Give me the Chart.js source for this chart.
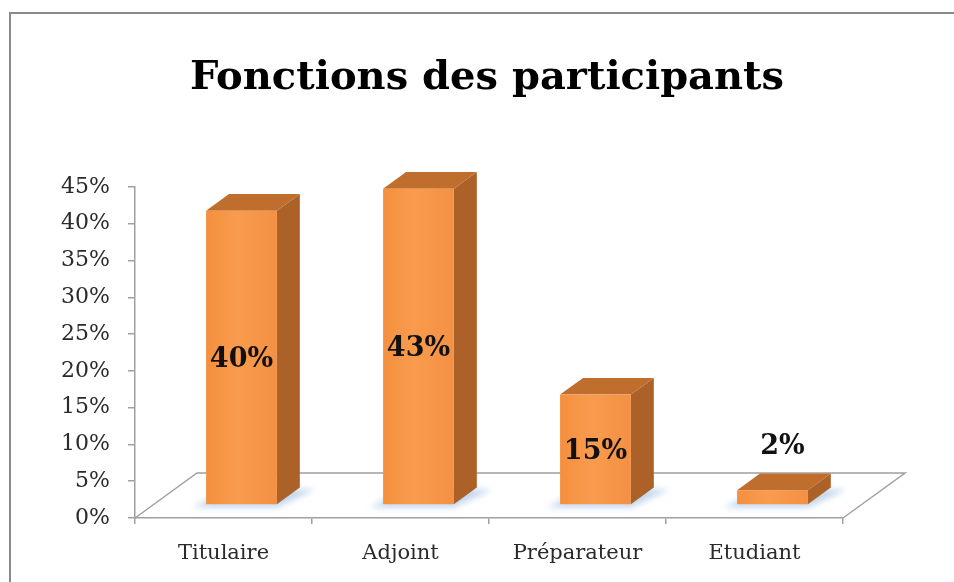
<!DOCTYPE html>
<html>
<head>
<meta charset="utf-8">
<title>Fonctions des participants</title>
<script src="https://cdn.jsdelivr.net/npm/chart.js@4.4.1/dist/chart.umd.min.js"></script>
<style>
  html, body { margin: 0; padding: 0; background: #fff; }
  #chartContainer { width: 954px; height: 582px; }
</style>
</head>
<body>
<div id="chartContainer"><canvas id="fonctionsChart" width="954" height="582"></canvas></div>
<script>
// Data
const categories = ['Titulaire', 'Adjoint', 'Préparateur', 'Etudiant'];
const shares = [0.40, 0.43, 0.15, 0.02];
const yTicks = [0, 0.05, 0.10, 0.15, 0.20, 0.25, 0.30, 0.35, 0.40, 0.45];
const chartTitle = 'Fonctions des participants';

const SERIF = '"DejaVu Serif", "Liberation Serif", serif';
const AXIS_GREY = '#a0a0a0';

// depth of the 3D floor, and where the bars sit inside it
const FLOOR_DX = 62, FLOOR_DY = -45;
const FRONT_K = 0.29, DEPTH_K = 0.37;

const pct = v => Math.round(v * 100) + '%';

const bar3d = {
    id: 'bar3d',
    beforeDraw(chart) {
        const ctx = chart.ctx;
        // frame of the original picture (left and top edges only are visible)
        ctx.save();
        ctx.strokeStyle = '#8a8a8a';
        ctx.lineWidth = 2;
        ctx.beginPath();
        ctx.moveTo(10, chart.height + 5);
        ctx.lineTo(10, 13);
        ctx.lineTo(chart.width + 5, 13);
        ctx.stroke();
        ctx.restore();
    },
    beforeDatasetsDraw(chart) {
        const ctx = chart.ctx;
        const a = chart.chartArea;
        // floor parallelogram
        ctx.save();
        ctx.strokeStyle = AXIS_GREY;
        ctx.lineWidth = 1.5;
        ctx.beginPath();
        ctx.moveTo(a.left, a.bottom);
        ctx.lineTo(a.left + FLOOR_DX, a.bottom + FLOOR_DY);
        ctx.lineTo(a.right + FLOOR_DX, a.bottom + FLOOR_DY);
        ctx.lineTo(a.right, a.bottom);
        ctx.stroke();

        // soft bluish shadows under each bar
        const fx = FLOOR_DX * FRONT_K, fy = FLOOR_DY * FRONT_K;
        const dx = FLOOR_DX * DEPTH_K, dy = FLOOR_DY * DEPTH_K;
        ctx.filter = 'blur(3px)';
        ctx.fillStyle = 'rgba(150, 185, 225, 0.6)';
        chart.getDatasetMeta(0).data.forEach(bar => {
            const p = bar.getProps(['x', 'base', 'width'], true);
            const l = p.x - p.width / 2 + fx;
            const r = p.x + p.width / 2 + fx;
            const b = p.base + fy;
            ctx.beginPath();
            ctx.moveTo(l - 13, b + 3);
            ctx.lineTo(r, b + 3);
            ctx.lineTo(r + dx + 15, b + dy + 2);
            ctx.lineTo(l + dx, b + dy + 2);
            ctx.closePath();
            ctx.fill();
        });
        ctx.restore();
    },
    afterDatasetsDraw(chart) {
        const ctx = chart.ctx;
        const fx = FLOOR_DX * FRONT_K, fy = FLOOR_DY * FRONT_K;
        const dx = FLOOR_DX * DEPTH_K, dy = FLOOR_DY * DEPTH_K;
        const values = chart.data.datasets[0].data;
        ctx.save();
        chart.getDatasetMeta(0).data.forEach((bar, i) => {
            const p = bar.getProps(['x', 'y', 'base', 'width'], true);
            const left = p.x - p.width / 2 + fx;
            const right = p.x + p.width / 2 + fx;
            const top = p.y + fy;
            const bottom = p.base + fy;

            // side face
            ctx.fillStyle = '#ac6129';
            ctx.beginPath();
            ctx.moveTo(right, top);
            ctx.lineTo(right + dx, top + dy);
            ctx.lineTo(right + dx, bottom + dy);
            ctx.lineTo(right, bottom);
            ctx.closePath();
            ctx.fill();

            // top face
            ctx.fillStyle = '#c06e2e';
            ctx.beginPath();
            ctx.moveTo(left, top);
            ctx.lineTo(left + dx, top + dy);
            ctx.lineTo(right + dx, top + dy);
            ctx.lineTo(right, top);
            ctx.closePath();
            ctx.fill();

            // front face
            const g = ctx.createLinearGradient(left, 0, right, 0);
            g.addColorStop(0, '#f4903f');
            g.addColorStop(0.45, '#f99b4e');
            g.addColorStop(1, '#f39043');
            ctx.fillStyle = g;
            ctx.fillRect(left, top, right - left, bottom - top);

            // value label
            ctx.font = 'bold 27px ' + SERIF;
            ctx.fillStyle = '#111';
            ctx.textAlign = 'center';
            ctx.textBaseline = 'middle';
            const v = values[i];
            if (bottom - top > 40) {
                ctx.fillText(pct(v), (left + right) / 2, (top + bottom) / 2 + 3);
            } else {
                ctx.fillText(pct(v), (left + right) / 2 + 10, top + dy - 27);
            }
        });
        ctx.restore();
    },
    afterDraw(chart) {
        const ctx = chart.ctx;
        ctx.save();
        ctx.font = 'bold 40px ' + SERIF;
        ctx.fillStyle = '#000';
        ctx.textAlign = 'center';
        ctx.textBaseline = 'alphabetic';
        ctx.fillText(chartTitle, 487, 89);
        ctx.restore();
    }
};

const ctx = document.getElementById('fonctionsChart').getContext('2d');

const fonctionsChart = new Chart(ctx, {
    type: 'bar',
    data: {
        labels: categories,
        datasets: [{
            label: chartTitle,
            data: shares,
            backgroundColor: 'rgba(0,0,0,0)',
            borderWidth: 0,
            categoryPercentage: 1,
            barPercentage: 0.4
        }]
    },
    options: {
        responsive: false,
        animation: false,
        layout: {
            padding: { top: 187, right: 111, bottom: 0, left: 0 }
        },
        plugins: {
            legend: { display: false },
            title: { display: false },
            tooltip: { enabled: false }
        },
        scales: {
            x: {
                afterFit: scale => { scale.height = 64; },
                grid: {
                    offset: true,
                    drawOnChartArea: false,
                    tickLength: 6,
                    color: AXIS_GREY,
                    lineWidth: 1.5
                },
                border: { color: AXIS_GREY, width: 1.5 },
                ticks: {
                    padding: 17,
                    color: '#2a2a2a',
                    font: { family: SERIF, size: 21 }
                }
            },
            y: {
                min: 0,
                max: 0.45,
                afterFit: scale => { scale.width = 135; },
                afterBuildTicks: scale => {
                    scale.ticks = yTicks.map(v => ({ value: v }));
                },
                grid: {
                    drawOnChartArea: false,
                    tickLength: 7,
                    color: AXIS_GREY,
                    lineWidth: 1.5
                },
                border: { color: AXIS_GREY, width: 1.5 },
                ticks: {
                    padding: 18,
                    color: '#2a2a2a',
                    font: { family: SERIF, size: 22 },
                    callback: value => pct(value)
                }
            }
        }
    },
    plugins: [bar3d]
});
</script>
</body>
</html>
